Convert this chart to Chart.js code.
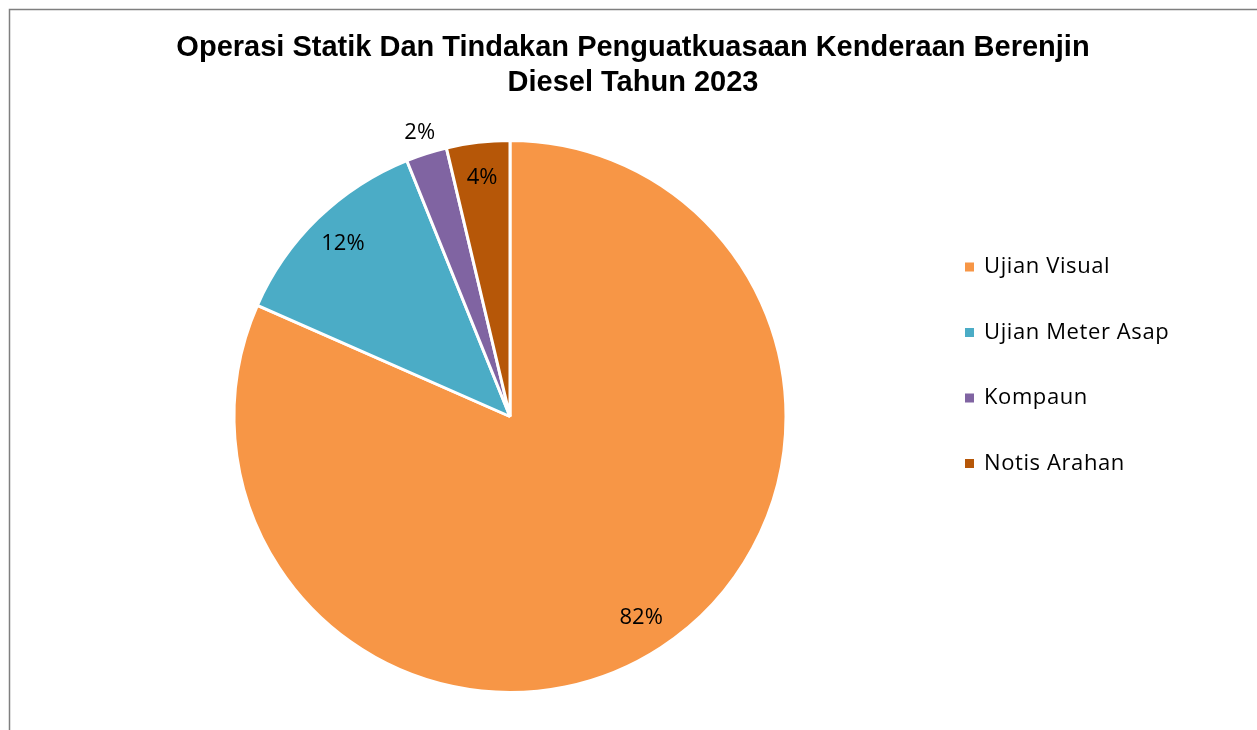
<!DOCTYPE html>
<html>
<head>
<meta charset="utf-8">
<script src="https://cdn.jsdelivr.net/npm/chart.js@4.4.0/dist/chart.umd.min.js"></script>
<style>
  html, body { margin: 0; padding: 0; background: #fff; }
  #wrap { width: 1257px; height: 730px; position: relative; }
</style>
</head>
<body>
<div id="wrap"><canvas id="dieselPieChart" width="1257" height="730"></canvas></div>
<script>
// Data (share of each action, in percent)
var categories = ['Ujian Visual', 'Ujian Meter Asap', 'Kompaun', 'Notis Arahan'];
var shares = [81.6, 12.3, 2.4, 3.7];
var sliceColors = ['#F79646', '#4BACC6', '#8064A2', '#B65708'];
var chartTitle = ['Operasi Statik Dan Tindakan Penguatkuasaan Kenderaan Berenjin', 'Diesel Tahun 2023'];

var labelFont = '22px "Open Sans", "Noto Sans", sans-serif';
var titleFont = 'bold 29px "Liberation Sans", Arial, sans-serif';

// Frame lines + title (title spans the whole frame, not just the pie area)
var framePlugin = {
    id: 'frame',
    beforeDraw: function (chart) {
        var ctx = chart.ctx;
        ctx.save();
        ctx.strokeStyle = '#7f7f7f';
        ctx.lineWidth = 1.5;
        ctx.beginPath();
        ctx.moveTo(9.5, 730);
        ctx.lineTo(9.5, 9.5);
        ctx.lineTo(1257, 9.5);
        ctx.stroke();

        ctx.font = titleFont;
        ctx.fillStyle = '#000';
        ctx.textAlign = 'center';
        ctx.textBaseline = 'middle';
        chartTitle.forEach(function (line, i) {
            ctx.fillText(line, 633, 48 + i * 35);
        });
        ctx.restore();
    }
};

// Percent labels on the slices
var sliceLabels = {
    id: 'sliceLabels',
    afterDatasetsDraw: function (chart) {
        var ctx = chart.ctx;
        var meta = chart.getDatasetMeta(0);
        var data = chart.data.datasets[0].data;
        var total = data.reduce(function (a, b) { return a + b; }, 0);
        ctx.save();
        ctx.font = labelFont;
        ctx.fillStyle = '#000';
        ctx.textAlign = 'center';
        ctx.textBaseline = 'middle';
        meta.data.forEach(function (arc, i) {
            var pct = data[i] / total * 100;
            var mid = (arc.startAngle + arc.endAngle) / 2;
            // the thinnest slice gets its label pushed outside
            var r = pct < 3 ? arc.outerRadius + 22 : arc.outerRadius * 0.87;
            var x = arc.x + Math.cos(mid) * r;
            var y = arc.y + Math.sin(mid) * r;
            ctx.fillText(Math.round(pct) + '%', x, y);
        });
        ctx.restore();
    }
};

// Legend on the right drawn from the same categories/colours
var sideLegend = {
    id: 'sideLegend',
    afterDraw: function (chart) {
        var ctx = chart.ctx;
        ctx.save();
        ctx.font = labelFont;
        ctx.textBaseline = 'middle';
        if ('letterSpacing' in ctx) ctx.letterSpacing = '0.6px';
        chart.data.labels.forEach(function (lbl, i) {
            var y = 267 + i * 65.5;
            ctx.fillStyle = sliceColors[i];
            ctx.fillRect(965, y - 4.5, 9, 9);
            ctx.fillStyle = '#000';
            ctx.fillText(lbl, 984, y);
        });
        ctx.restore();
    }
};

var ctxPie = document.getElementById('dieselPieChart').getContext('2d');

var dieselPieChart = new Chart(ctxPie, {
    type: 'pie',
    data: {
        labels: categories,
        datasets: [{
            label: 'Tindakan',
            data: shares,
            backgroundColor: sliceColors,
            borderColor: '#fff',
            borderWidth: 3
        }]
    },
    options: {
        responsive: false,
        animation: false,
        layout: {
            padding: { top: 139, bottom: 36, left: 232, right: 469 }
        },
        plugins: {
            legend: { display: false },
            tooltip: { enabled: false },
            title: { display: false }
        }
    },
    plugins: [framePlugin, sliceLabels, sideLegend]
});
</script>
</body>
</html>
